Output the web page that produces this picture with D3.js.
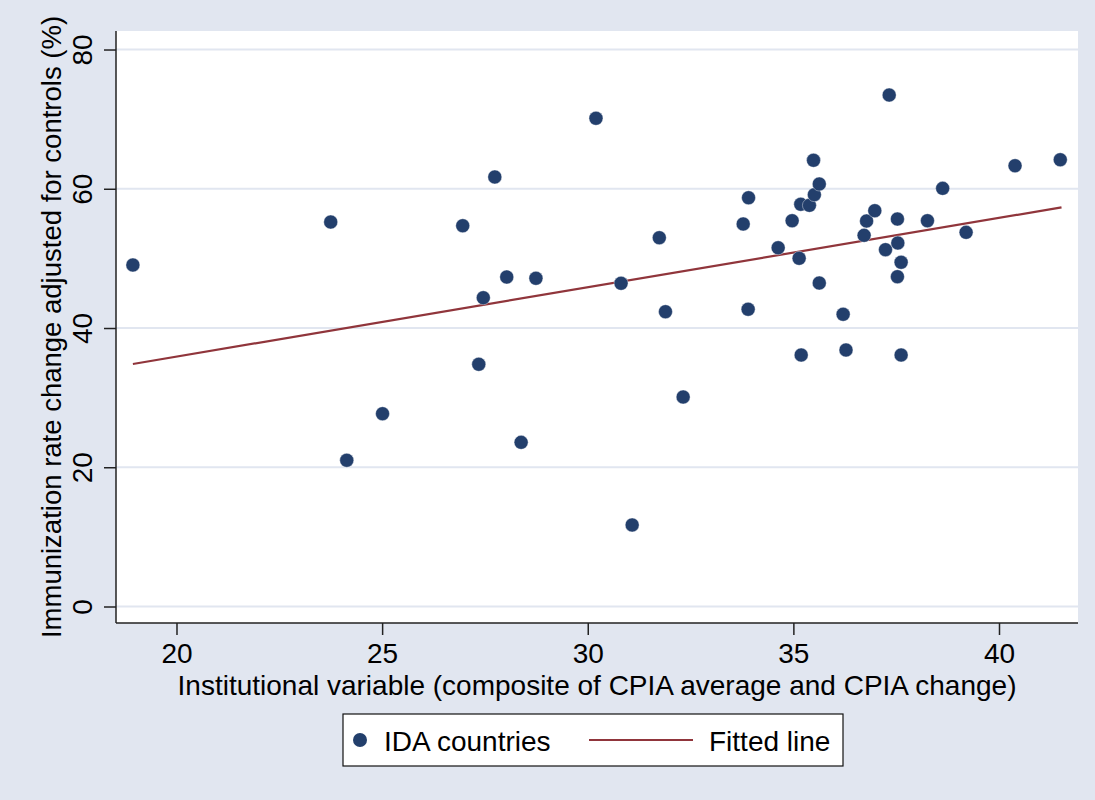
<!DOCTYPE html>
<html>
<head>
<meta charset="utf-8">
<script src="https://cdn.jsdelivr.net/npm/d3@7"></script>
<style>
  html, body { margin: 0; padding: 0; background: #e1e6f0; }
  svg { display: block; }
  text { font-family: "Liberation Sans", Arial, sans-serif; fill: #000; }
</style>
</head>
<body>
<svg id="chart" width="1095" height="800"></svg>
<script>
// ---- data ----
const cpiaX = [18.94, 23.75, 24.14, 25.01, 26.96, 27.46, 27.35, 27.74, 28.03, 28.38,
               28.74, 30.20, 30.81, 31.08, 31.74, 31.89, 32.32, 33.78, 33.91, 33.90,
               34.63, 34.97, 35.14, 35.19, 35.18, 35.39, 35.51, 35.49, 35.63, 35.63,
               36.21, 36.28, 36.72, 36.78, 36.98, 37.24, 37.33, 37.53, 37.54, 37.62,
               37.53, 37.62, 38.26, 38.63, 39.20, 40.39, 41.49];
const immunY = [49.05, 55.22, 21.0, 27.69, 54.69, 44.35, 34.79, 61.69, 47.32, 23.58,
                47.14, 70.12, 46.42, 11.71, 52.97, 42.34, 30.09, 54.94, 58.71, 42.69,
                51.53, 55.41, 50.01, 36.12, 57.77, 57.62, 59.15, 64.09, 60.68, 46.46,
                41.97, 36.84, 53.31, 55.37, 56.85, 51.25, 73.46, 55.65, 52.21, 49.44,
                47.37, 36.12, 55.41, 60.06, 53.74, 63.31, 64.17];
const fitX = [18.94, 41.52];
const fitY = [34.83, 57.33];
const xTicks = [20, 25, 30, 35, 40];
const yTicks = [0, 20, 40, 60, 80];
const xTitle = "Institutional variable (composite of CPIA average and CPIA change)";
const yTitle = "Immunization rate change adjusted for controls (%)";
const legendLabels = ["IDA countries", "Fitted line"];

// ---- layout ----
const W = 1095, H = 800;
const plot = { left: 116, top: 31, right: 1078, bottom: 623 };
const navy = "#233f6c", maroon = "#90353b", gridC = "#e1e6f0", bg = "#e1e6f0";
const fs = 28;

const svg = d3.select("#chart");
svg.append("rect").attr("width", W).attr("height", H).attr("fill", bg);

const x = d3.scaleLinear().domain([18.529, 41.921]).range([plot.left, plot.right]);
const y = d3.scaleLinear().domain([-2.37, 82.66]).range([plot.bottom, plot.top]);

// plot region
svg.append("rect")
  .attr("x", plot.left).attr("y", plot.top)
  .attr("width", plot.right - plot.left).attr("height", plot.bottom - plot.top)
  .attr("fill", "#fff");

// grid
svg.append("g").selectAll("line").data(yTicks).join("line")
  .attr("x1", plot.left).attr("x2", plot.right)
  .attr("y1", d => y(d)).attr("y2", d => y(d))
  .attr("stroke", gridC).attr("stroke-width", 2);

// axes
const yAxis = svg.append("g").attr("transform", `translate(${plot.left},0)`)
  .call(d3.axisLeft(y).tickValues(yTicks).tickSize(12).tickPadding(12).tickFormat(d3.format("d")));
yAxis.select(".domain").attr("d", `M0,${plot.top}V${plot.bottom}`).attr("stroke", "#222").attr("stroke-width", 1.5);
yAxis.selectAll(".tick line").attr("stroke", "#222").attr("stroke-width", 1.5);
yAxis.selectAll(".tick text")
  .attr("font-size", fs).attr("text-anchor", "middle").attr("dy", null)
  .attr("x", null)
  .attr("transform", "translate(-24,0) rotate(-90)")
  .attr("y", 0);

const xAxis = svg.append("g").attr("transform", `translate(0,${plot.bottom})`)
  .call(d3.axisBottom(x).tickValues(xTicks).tickSize(12).tickFormat(d3.format("d")));
xAxis.select(".domain").attr("d", `M${plot.left},0H${plot.right}`).attr("stroke", "#222").attr("stroke-width", 1.5);
xAxis.selectAll(".tick line").attr("stroke", "#222").attr("stroke-width", 1.5);
xAxis.selectAll(".tick text").attr("font-size", fs).attr("dy", null).attr("y", 40);

svg.selectAll(".tick text").attr("fill", "#000").attr("font-family", "Liberation Sans, Arial, sans-serif");

// titles
svg.append("text")
  .attr("x", (plot.left + plot.right) / 2).attr("y", 695)
  .attr("text-anchor", "middle").attr("font-size", fs).text(xTitle);
svg.append("text")
  .attr("transform", `translate(61,${(plot.top + plot.bottom) / 2}) rotate(-90)`)
  .attr("text-anchor", "middle").attr("font-size", 27.5).text(yTitle);

// fitted line
const fitData = fitX.map((v, i) => [v, fitY[i]]);
svg.append("path").datum(fitData)
  .attr("d", d3.line().x(d => x(d[0])).y(d => y(d[1])))
  .attr("fill", "none").attr("stroke", maroon).attr("stroke-width", 2.2);

// points
const pts = cpiaX.map((v, i) => [v, immunY[i]]);
svg.append("g").selectAll("circle").data(pts).join("circle")
  .attr("cx", d => x(d[0])).attr("cy", d => y(d[1])).attr("r", 7)
  .attr("fill", navy).attr("stroke", "#fff").attr("stroke-width", 0.4);

// legend
const lg = svg.append("g");
lg.append("rect").attr("x", 343).attr("y", 714).attr("width", 500).attr("height", 52)
  .attr("fill", "#fff").attr("stroke", "#111").attr("stroke-width", 1.2);
lg.append("circle").attr("cx", 360).attr("cy", 740).attr("r", 7).attr("fill", navy);
lg.append("text").attr("x", 384).attr("y", 751).attr("font-size", fs).text(legendLabels[0]);
lg.append("line").attr("x1", 589).attr("x2", 693).attr("y1", 740).attr("y2", 740)
  .attr("stroke", maroon).attr("stroke-width", 2.2);
lg.append("text").attr("x", 709).attr("y", 751).attr("font-size", fs).text(legendLabels[1]);
</script>
</body>
</html>
